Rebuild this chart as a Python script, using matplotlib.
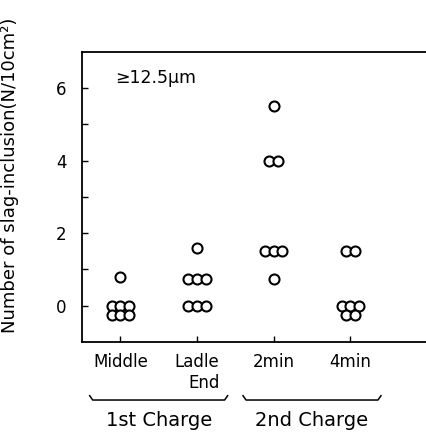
import matplotlib
matplotlib.use("Agg")
import matplotlib.pyplot as plt
from matplotlib.transforms import blended_transform_factory
import numpy as np

# slag-inclusion counts per sampling position
categories = ["Middle", "Ladle\nEnd", "2min", "4min"]
counts = [
    [0.8, 0, 0, 0, 0, 0, 0],
    [1.6, 0.75, 0.75, 0.75, 0, 0, 0],
    [5.5, 4.0, 4.0, 1.5, 1.5, 1.5, 0.75],
    [1.5, 1.5, 0, 0, 0, 0, 0],
]
groups = ["1st Charge", "2nd Charge"]
group_members = [(0, 1), (2, 3)]

STEP = 0.115     # horizontal spacing between repeated values
ROW_DROP = 0.25  # vertical drop for overflow rows
PER_ROW = 3


def layout(values, xc):
    xs, ys = [], []
    for v in sorted(set(values), reverse=True):
        n = values.count(v)
        rows = [PER_ROW] * (n // PER_ROW) + ([n % PER_ROW] if n % PER_ROW else [])
        for r, k in enumerate(rows):
            offs = (np.arange(k) - (k - 1) / 2) * STEP
            xs.extend(xc + offs)
            ys.extend([v - r * ROW_DROP] * k)
    return xs, ys


fig = plt.figure(figsize=(4.27, 4.43), dpi=100)
ax = fig.add_axes([0.192, 0.228, 0.808, 0.655])

pos = np.arange(1, len(categories) + 1)
for xc, vals in zip(pos, counts):
    xs, ys = layout(vals, xc)
    ax.scatter(xs, ys, s=52, facecolors="white", edgecolors="black",
               linewidths=1.5, zorder=3)

ax.set_xlim(0.5, 5.0)
ax.set_ylim(-1, 7)
ax.set_xticks(pos)
ax.set_xticklabels(categories, fontsize=12, ha="center")
for lab in ax.get_xticklabels():
    if "\n" in lab.get_text():
        lab.set_multialignment("right")
ax.set_yticks([0, 2, 4, 6])
ax.set_yticks([1, 3, 5], minor=True)
ax.tick_params(axis="both", direction="in", length=4, width=1, labelsize=12)
ax.tick_params(axis="y", which="minor", direction="in", length=4, width=1)
ax.tick_params(axis="y", pad=11)
ax.tick_params(axis="x", pad=8)

ax.spines["right"].set_visible(False)
for s in ("left", "top", "bottom"):
    ax.spines[s].set_linewidth(1.3)

ax.set_ylabel("Number of slag-inclusion(N/10cm²)", fontsize=13)
ax.yaxis.set_label_coords(-0.183, 0.575)

ax.text(0.096, 0.94, "≥12.5μm", transform=ax.transAxes, fontsize=12.5,
        va="top", ha="left")

# group brackets under the category labels
tr = blended_transform_factory(ax.transData, ax.transAxes)
for name, (a, b) in zip(groups, group_members):
    x0, x1 = pos[a] - 0.4, pos[b] + 0.4
    ax.plot([x0, x0 + 0.04, x1 - 0.04, x1], [-0.185, -0.2, -0.2, -0.185],
            transform=tr, color="black", lw=1.1, clip_on=False)
    ax.text((pos[a] + pos[b]) / 2, -0.27, name, transform=tr, fontsize=14,
            ha="center", va="center")

fig.savefig("out.png", dpi=100)
